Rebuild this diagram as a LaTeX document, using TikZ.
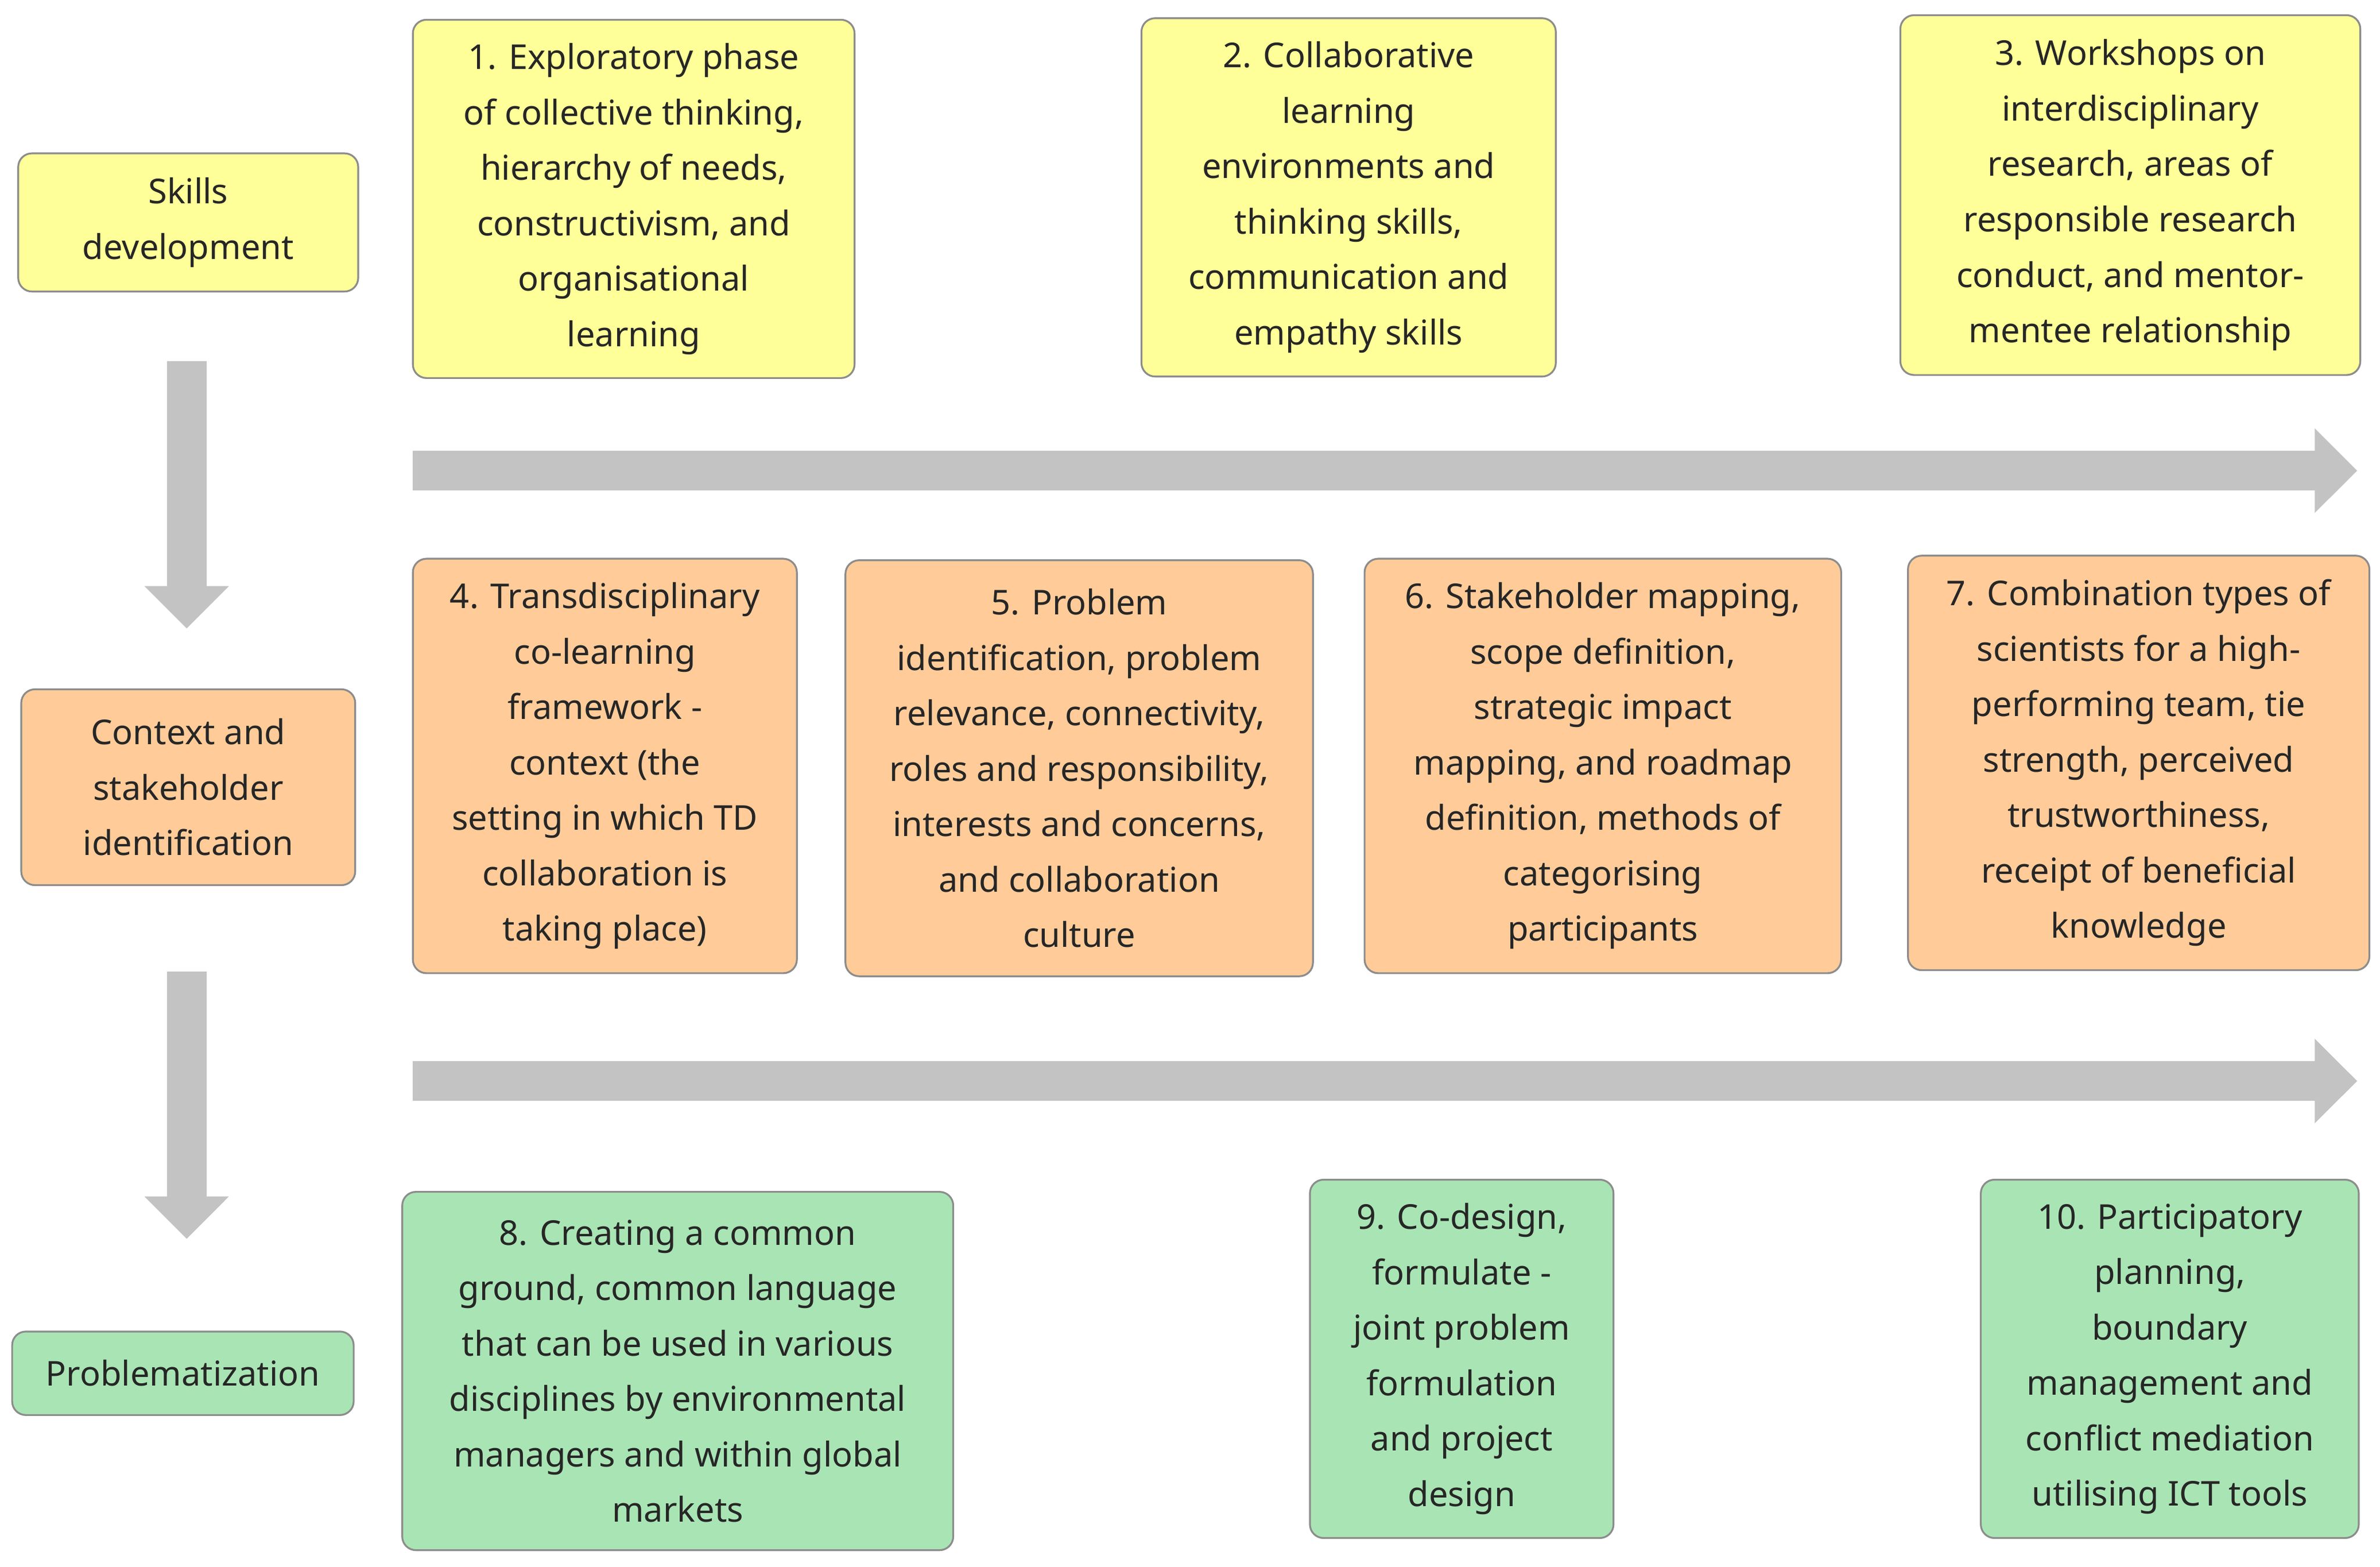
\documentclass[tikz,border=0pt]{standalone}
\usepackage{fontspec}
\setmainfont{Noto Sans}
\usetikzlibrary{arrows.meta}
\definecolor{yel}{HTML}{FFFF99}
\definecolor{ora}{HTML}{FFCC99}
\definecolor{grn}{HTML}{A9E5B4}
\definecolor{arr}{HTML}{C3C3C3}
\definecolor{bd}{HTML}{8C8C8C}
\begin{document}
\begin{tikzpicture}[x=1pt,y=-1pt,
  bx/.style={draw=bd,line width=1.2pt,rounded corners=9pt,inner sep=0pt,align=center,
    font=\fontsize{22.5}{36.5}\selectfont\bfseries,text=black!85},
  bigarrow/.style={draw=arr,line width=26pt,-{Triangle[length=28pt,width=54pt]}},
]
\useasboundingbox (0,0) rectangle (1568,1032);
\newcommand\bxat[7]{\node[bx,fill=#6,minimum width=#3-#1,minimum height=#4-#2] (#5) at ({(#1+#3)/2},{(#2+#4)/2}) {#7};}
\bxat{12}{101}{236}{192}{s}{yel}{Skills\\development}
\bxat{14}{454}{234}{583}{c}{ora}{Context and\\stakeholder\\identification}
\bxat{8}{877}{233}{932}{p}{grn}{Problematization}
\bxat{272}{13}{563}{249}{b1}{yel}{1. Exploratory phase\\of collective thinking,\\hierarchy of needs,\\constructivism, and\\organisational\\learning}
\bxat{752}{12}{1025}{248}{b2}{yel}{2. Collaborative\\learning\\environments and\\thinking skills,\\communication and\\empathy skills}
\bxat{1252}{10}{1555}{247}{b3}{yel}{3. Workshops on\\interdisciplinary\\research, areas of\\responsible research\\conduct, and mentor-\\mentee relationship}
\bxat{272}{368}{525}{641}{b4}{ora}{4. Transdisciplinary\\co-learning\\framework -\\context (the\\setting in which TD\\collaboration is\\taking place)}
\bxat{557}{369}{865}{643}{b5}{ora}{5. Problem\\identification, problem\\relevance, connectivity,\\roles and responsibility,\\interests and concerns,\\and collaboration\\culture}
\bxat{899}{368}{1213}{641}{b6}{ora}{6. Stakeholder mapping,\\scope definition,\\strategic impact\\mapping, and roadmap\\definition, methods of\\categorising\\participants}
\bxat{1257}{366}{1561}{639}{b7}{ora}{7. Combination types of\\scientists for a high-\\performing team, tie\\strength, perceived\\trustworthiness,\\receipt of beneficial\\knowledge}
\bxat{265}{785}{628}{1021}{b8}{grn}{8. Creating a common\\ground, common language\\that can be used in various\\disciplines by environmental\\managers and within global\\markets}
\bxat{863}{777}{1063}{1013}{b9}{grn}{9. Co-design,\\formulate -\\joint problem\\formulation\\and project\\design}
\bxat{1305}{777}{1554}{1013}{b10}{grn}{10. Participatory\\planning,\\boundary\\management and\\conflict mediation\\utilising ICT tools}
\coordinate (h1a) at (272,310); \coordinate (h1b) at (1553,310);
\coordinate (h2a) at (272,712); \coordinate (h2b) at (1553,712);
\coordinate (v1a) at (123,238); \coordinate (v1b) at (123,414);
\coordinate (v2a) at (123,640); \coordinate (v2b) at (123,816);
\draw[bigarrow] (h1a) -- (h1b);
\draw[bigarrow] (h2a) -- (h2b);
\draw[bigarrow] (v1a) -- (v1b);
\draw[bigarrow] (v2a) -- (v2b);
\end{tikzpicture}
\end{document}
